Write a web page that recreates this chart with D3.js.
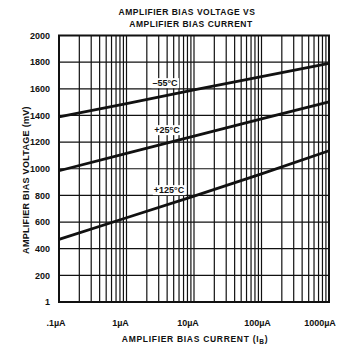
<!DOCTYPE html>
<html><head><meta charset="utf-8">
<script src="https://cdn.jsdelivr.net/npm/d3@7"></script>
<style>body{margin:0;background:#fff}text{font-family:"Liberation Sans",Arial,sans-serif;font-weight:bold;fill:#111}</style>
</head><body><svg id="c" width="337" height="345"></svg>
<script>
const currents = [0.1, 1, 10, 100, 1000];
const vMinus55 = [1390, 1488, 1592, 1692, 1790];
const vPlus25 = [985, 1115, 1245, 1375, 1502];
const vPlus125 = [470, 632, 795, 962, 1135];
const seriesNames = ["\u201355\u00B0C", "+25\u00B0C", "+125\u00B0C"];
const yTicks = [0, 200, 400, 600, 800, 1000, 1200, 1400, 1600, 1800, 2000];
const yTickLabels = ["1", "200", "400", "600", "800", "1000", "1200", "1400", "1600", "1800", "2000"];
const xTicks = [0.1, 1, 10, 100, 1000];
const xTickLabels = [".1\u00B5A", "1\u00B5A", "10\u00B5A", "100\u00B5A", "1000\u00B5A"];

const svg = d3.select("#c");
const L = 59, R = 329, T = 35.5, B = 302;
const x = d3.scaleLog().domain([0.1, 1000]).range([L, R]);
const y = d3.scaleLinear().domain([0, 2000]).range([B, T]);

// minor log grid
const minor = [];
for (let d = 0.1; d < 1000; d *= 10) for (let k = 1; k <= 10; k++) minor.push(+(d * k).toPrecision(3));
svg.append("g").selectAll("line").data(Array.from(new Set(minor))).join("line")
  .attr("x1", d => x(d)).attr("x2", d => x(d)).attr("y1", T).attr("y2", B)
  .attr("stroke", "#111").attr("stroke-width", 1.2);
svg.append("g").selectAll("line").data(yTicks).join("line")
  .attr("x1", L).attr("x2", R).attr("y1", d => y(d)).attr("y2", d => y(d))
  .attr("stroke", "#111").attr("stroke-width", 1.2);
svg.append("rect").attr("x", L).attr("y", T).attr("width", R - L).attr("height", B - T)
  .attr("fill", "none").attr("stroke", "#111").attr("stroke-width", 2);

// y axis labels
svg.append("g").selectAll("text").data(yTicks).join("text")
  .attr("x", 50).attr("y", d => y(d)).attr("dy", "0.35em").attr("text-anchor", "end")
  .attr("font-size", 9).text((d, i) => yTickLabels[i]);
// x axis labels
const xdx = [-3, -6, -6, -4, -9];
svg.append("g").selectAll("text").data(xTicks).join("text")
  .attr("x", (d, i) => x(d) + xdx[i]).attr("y", 323).attr("dy", "0.35em").attr("text-anchor", "middle")
  .attr("font-size", 9).text((d, i) => xTickLabels[i]);

// series lines
const line = d3.line().x((d, i) => x(currents[i])).y(d => y(d));
[vMinus55, vPlus25, vPlus125].forEach(s => {
  svg.append("path").datum(s).attr("d", line).attr("fill", "none")
    .attr("stroke", "#111").attr("stroke-width", 2.8);
});

// series labels
const labelPos = [[165, 83], [167, 130], [169, 190]];
seriesNames.forEach((n, i) => {
  const g = svg.append("g");
  const t = g.append("text").attr("x", labelPos[i][0]).attr("y", labelPos[i][1]).attr("dy", "0.35em")
    .attr("text-anchor", "middle").attr("font-size", 9).text(n);
  const bb = t.node().getBBox();
  g.insert("rect", "text").attr("x", bb.x - 1).attr("y", bb.y).attr("width", bb.width + 2).attr("height", bb.height).attr("fill", "#fff");
});

// titles
svg.append("text").attr("x", 187).attr("y", 12).attr("dy", "0.35em").attr("text-anchor", "middle")
  .attr("font-size", 8.5).attr("letter-spacing", 0.5).text("AMPLIFIER BIAS VOLTAGE VS");
svg.append("text").attr("x", 191).attr("y", 24).attr("dy", "0.35em").attr("text-anchor", "middle")
  .attr("font-size", 8.5).attr("letter-spacing", 0.5).text("AMPLIFIER BIAS CURRENT");
const xt = svg.append("text").attr("x", 195).attr("y", 339).attr("dy", "0.35em").attr("text-anchor", "middle")
  .attr("font-size", 8.5).attr("letter-spacing", 0.7);
xt.append("tspan").text("AMPLIFIER BIAS CURRENT (I");
xt.append("tspan").attr("font-size", 6.5).attr("dy", 2).text("B");
xt.append("tspan").attr("dy", -2).text(")");
svg.append("text").attr("transform", "translate(26,180) rotate(-90)").attr("dy", "0.35em")
  .attr("text-anchor", "middle").attr("font-size", 9).attr("letter-spacing", 0.3).text("AMPLIFIER BIAS VOLTAGE (mV)");
</script></body></html>
